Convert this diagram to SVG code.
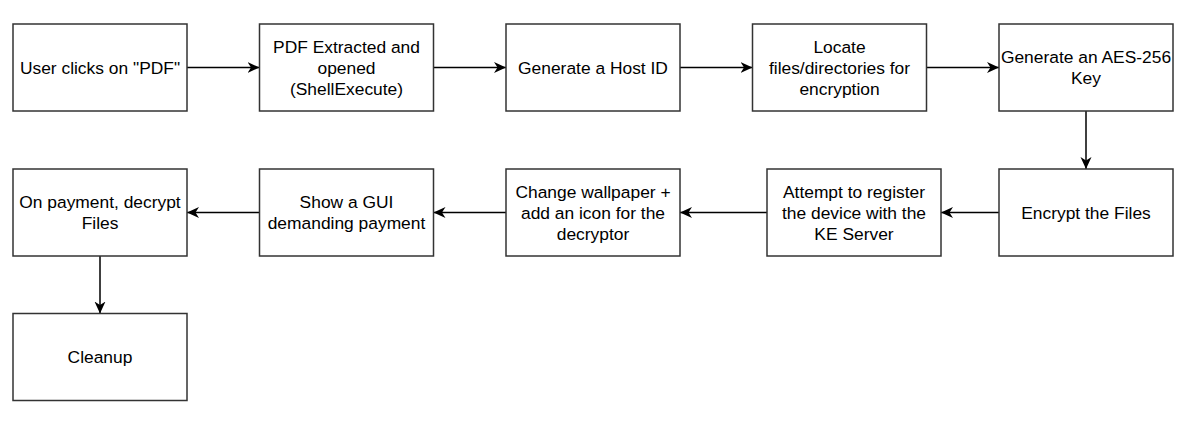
<svg xmlns="http://www.w3.org/2000/svg" width="1184" height="424" viewBox="0 0 1184 424">
<style>
.box{fill:#fff;stroke:#333;stroke-width:1.5}
.lbl{font-family:"Liberation Sans",Arial,sans-serif;font-size:17.4px;fill:#000;text-anchor:middle}
.edge{fill:none;stroke:#000;stroke-width:1.5;marker-end:url(#arr)}
</style>
<defs>
<marker id="arr" markerUnits="userSpaceOnUse" markerWidth="13" markerHeight="12" refX="12" refY="6" orient="auto">
<path d="M0,0.5 L12,6 L0,11.5 L3.5,6 Z" fill="#000"/>
</marker>
</defs>
<rect width="1184" height="424" fill="#fff"/>
<g id="connectors">
<line class="edge" x1="187" y1="67.5" x2="259.5" y2="67.5"/>
<line class="edge" x1="433.5" y1="67.5" x2="506" y2="67.5"/>
<line class="edge" x1="680" y1="67.5" x2="752.5" y2="67.5"/>
<line class="edge" x1="926.5" y1="67.5" x2="999" y2="67.5"/>
<line class="edge" x1="1086" y1="111" x2="1086" y2="169"/>
<line class="edge" x1="999" y1="212.5" x2="941" y2="212.5"/>
<line class="edge" x1="767" y1="212.5" x2="680" y2="212.5"/>
<line class="edge" x1="506" y1="212.5" x2="433.5" y2="212.5"/>
<line class="edge" x1="259.5" y1="212.5" x2="187" y2="212.5"/>
<line class="edge" x1="100" y1="256" x2="100" y2="313.5"/>
</g>
<g id="n1"><rect class="box" x="13" y="24" width="174" height="87"/><text class="lbl" x="100" y="73.5">User clicks on "PDF"</text></g>
<g id="n2"><rect class="box" x="259.5" y="24" width="174" height="87"/><text class="lbl" x="346.5" y="52.5">PDF Extracted and</text><text class="lbl" x="346.5" y="73.5">opened</text><text class="lbl" x="346.5" y="94.5">(ShellExecute)</text></g>
<g id="n3"><rect class="box" x="506" y="24" width="174" height="87"/><text class="lbl" x="593" y="73.5">Generate a Host ID</text></g>
<g id="n4"><rect class="box" x="752.5" y="24" width="174" height="87"/><text class="lbl" x="839.5" y="52.5">Locate</text><text class="lbl" x="839.5" y="73.5">files/directories for</text><text class="lbl" x="839.5" y="94.5">encryption</text></g>
<g id="n5"><rect class="box" x="999" y="24" width="174" height="87"/><text class="lbl" x="1086" y="63">Generate an AES-256</text><text class="lbl" x="1086" y="84">Key</text></g>
<g id="n6"><rect class="box" x="999" y="169" width="174" height="87"/><text class="lbl" x="1086" y="218.5">Encrypt the Files</text></g>
<g id="n7"><rect class="box" x="767" y="169" width="174" height="87"/><text class="lbl" x="854" y="197.5">Attempt to register</text><text class="lbl" x="854" y="218.5">the device with the</text><text class="lbl" x="854" y="239.5">KE Server</text></g>
<g id="n8"><rect class="box" x="506" y="169" width="174" height="87"/><text class="lbl" x="593" y="197.5">Change wallpaper +</text><text class="lbl" x="593" y="218.5">add an icon for the</text><text class="lbl" x="593" y="239.5">decryptor</text></g>
<g id="n9"><rect class="box" x="259.5" y="169" width="174" height="87"/><text class="lbl" x="346.5" y="208">Show a GUI</text><text class="lbl" x="346.5" y="229">demanding payment</text></g>
<g id="n10"><rect class="box" x="13" y="169" width="174" height="87"/><text class="lbl" x="100" y="208">On payment, decrypt</text><text class="lbl" x="100" y="229">Files</text></g>
<g id="n11"><rect class="box" x="13" y="313.5" width="174" height="87"/><text class="lbl" x="100" y="363">Cleanup</text></g>
</svg>
